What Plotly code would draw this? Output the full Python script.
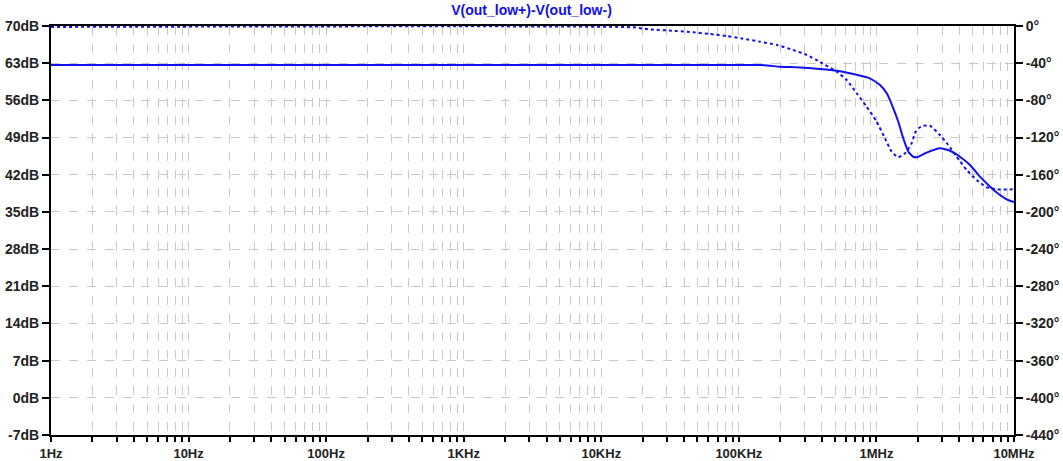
import plotly.graph_objects as go

# Magnitude (solid), dB
mag_freq = [1, 1.426e5, 1.99e5, 2.78e5, 3.89e5, 5.14e5, 6.79e5, 8.97e5, 1.062e6, 1.189e6,
            1.327e6, 1.442e6, 1.567e6, 1.706e6, 1.854e6, 2.004e6, 2.317e6, 2.897e6, 3.428e6,
            4.046e6, 4.786e6, 5.662e6, 6.699e6, 7.907e6, 9.04e6, 1e7]
mag_db = [62.66, 62.66, 62.34, 62.19, 61.9, 61.58, 60.96, 60.15, 58.89, 57.33,
          54.51, 51.98, 48.86, 46.34, 45.39, 45.34, 46.15, 46.98, 46.52,
          45.39, 43.83, 41.63, 39.75, 38.18, 37.24, 36.87]

# Phase (dotted), degrees
ph_freq = [1, 1.70e4, 2.19e4, 3.55e4, 4.65e4, 6.17e4, 8.20e4, 1.072e5, 1.426e5, 1.892e5,
           2.477e5, 3.126e5, 3.89e5, 5.14e5, 6.08e5, 7.19e5, 8.49e5, 1.005e6, 1.153e6,
           1.291e6, 1.442e6, 1.614e6, 1.803e6, 1.905e6, 2.018e6, 2.193e6, 2.449e6, 2.897e6,
           3.327e6, 3.828e6, 4.529e6, 5.358e6, 6.324e6, 7.482e6, 1e7]
ph_deg = [-1, -1.4, -3.5, -5.4, -6.8, -8.6, -10.8, -13.7, -16.9, -20.4,
          -25.8, -31.2, -38.7, -49.2, -58.1, -72.4, -86.8, -103.0, -120.8,
          -135.2, -141.3, -137.0, -126.2, -115.4, -110.1, -107.3, -107.3, -117.3,
          -128.0, -140.6, -154.9, -165.7, -173.5, -175.7, -175.7]

x_tickvals = [1, 10, 100, 1e3, 1e4, 1e5, 1e6, 1e7]
x_ticktext = ["1Hz", "10Hz", "100Hz", "1KHz", "10KHz", "100KHz", "1MHz", "10MHz"]
db_ticks = list(range(-7, 71, 7))
db_text = [f"{v}dB" for v in db_ticks]
deg_ticks = list(range(-440, 1, 40))
deg_text = [f"{v}°" for v in deg_ticks]

title = "V(out_low+)-V(out_low-)"
blue = "#1010f0"
grid = "#c8c8c8"
font = dict(family="Liberation Sans, Arial", size=14, color="#222222", weight="bold")
xfont = dict(family="Liberation Sans, Arial", size=13, color="#222222", weight="bold")

fig = go.Figure()
fig.add_trace(go.Scatter(x=mag_freq, y=mag_db, mode="lines",
                         line=dict(color=blue, width=2, shape="spline", smoothing=0.5),
                         yaxis="y", showlegend=False))
fig.add_trace(go.Scatter(x=ph_freq, y=ph_deg, mode="lines",
                         line=dict(color=blue, width=2, dash="dot", shape="spline", smoothing=0.5),
                         yaxis="y2", showlegend=False))

fig.update_layout(
    width=1063, height=461,
    margin=dict(l=51, r=49, t=26, b=26),
    paper_bgcolor="white", plot_bgcolor="white",
    title=dict(text=title, x=0.5, xanchor="center", y=1, yanchor="top", yref="container",
               pad=dict(t=5),
               font=dict(family="Liberation Sans, Arial", size=14, color=blue, weight="bold")),
    xaxis=dict(type="log", range=[0, 7], tickvals=x_tickvals, ticktext=x_ticktext,
               tickfont=xfont, showline=True, linecolor="black", linewidth=2, mirror=True,
               ticks="outside", ticklen=5, tickwidth=2, tickcolor="black",
               showgrid=True, gridcolor=grid, griddash="dash", gridwidth=1,
               minor=dict(dtick="D1", showgrid=True, gridcolor=grid, griddash="dash", gridwidth=1,
                          ticks="outside", ticklen=5, tickwidth=2, tickcolor="black"),
               zeroline=False, automargin=False),
    yaxis=dict(range=[-7, 70], tickvals=db_ticks, ticktext=db_text, tickfont=font,
               showline=True, linecolor="black", linewidth=2,
               ticks="outside", ticklen=7, tickwidth=2, tickcolor="black",
               showgrid=True, gridcolor=grid, griddash="dash", gridwidth=1, zeroline=False,
               automargin=False),
    yaxis2=dict(range=[-440, 0], tickvals=deg_ticks, ticktext=deg_text, tickfont=font,
                overlaying="y", side="right", showline=True, linecolor="black", linewidth=2,
                ticks="outside", ticklen=7, tickwidth=2, tickcolor="black",
                showgrid=False, zeroline=False, automargin=False),
)

fig.write_html("out.html")
